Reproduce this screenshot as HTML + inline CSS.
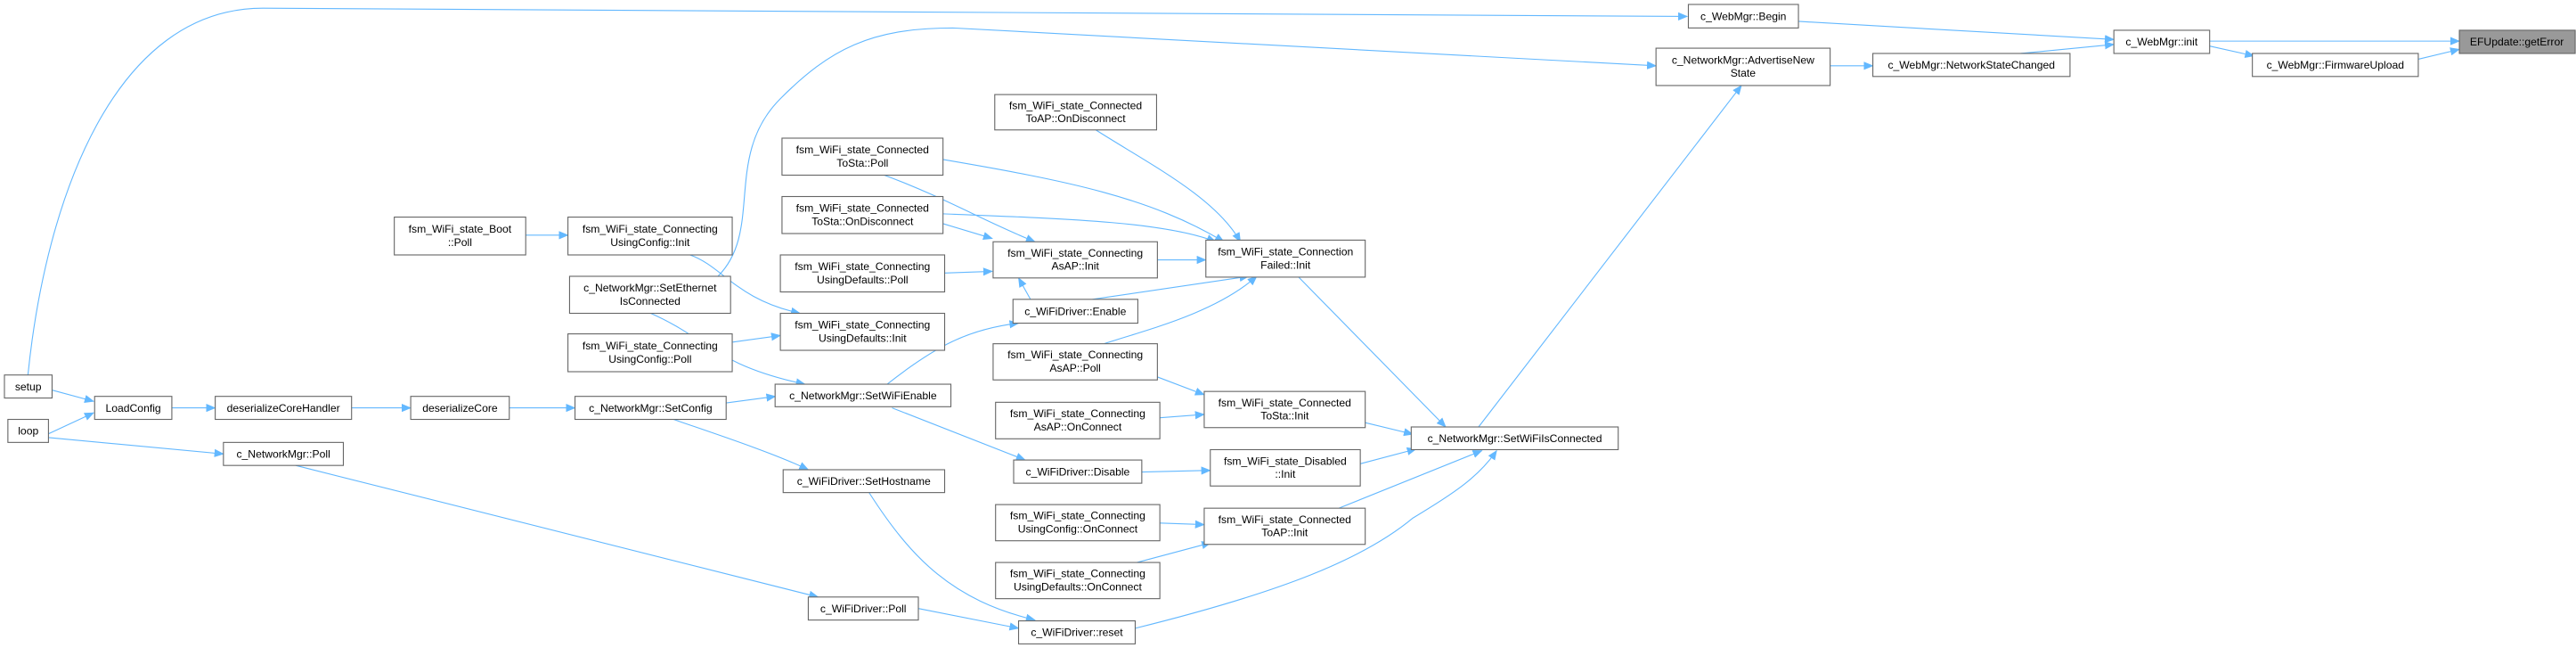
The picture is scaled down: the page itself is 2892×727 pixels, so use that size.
<!DOCTYPE html>
<html><head><meta charset="utf-8"><style>
html,body{margin:0;padding:0;background:#fff;}
svg{display:block;}
text{font-family:"Liberation Sans",Arial,sans-serif;font-size:6.6px;fill:#000;text-anchor:middle;}
.b{fill:#fff;stroke:#666;stroke-width:0.6;}
.e{fill:none;stroke:#63b8ff;stroke-width:0.6;}
</style></head><body>
<svg width="2892" height="727" viewBox="0 0 1568 394" preserveAspectRatio="none" xmlns="http://www.w3.org/2000/svg">
<defs><marker id="a" markerUnits="userSpaceOnUse" markerWidth="6" markerHeight="5" refX="5.5" refY="2.5" orient="auto"><path d="M0,0 L6,2.5 L0,5 z" fill="#63b8ff"/></marker></defs>
<g marker-end="url(#a)">
<path class="e" d="M17,228 C28,120 70,5 160,5 L1027,10"/>
<path class="e" d="M31,237 L57,244"/>
<path class="e" d="M29,264 L57,251"/>
<path class="e" d="M29,266 L136,276"/>
<path class="e" d="M104.6,248 L131,248"/>
<path class="e" d="M214,248 L250,248"/>
<path class="e" d="M310,248 L350,248"/>
<path class="e" d="M442,245 L472,241"/>
<path class="e" d="M410,255 C430,262 470,275 492,285.6"/>
<path class="e" d="M180,283 L498,363"/>
<path class="e" d="M320,143 L345.7,143"/>
<path class="e" d="M420,155 C440,162 448,182 487,190.5"/>
<path class="e" d="M437,168 C465,140 440,95 475,60 C505,30 530,17 580,17 L1008,40"/>
<path class="e" d="M395,190 C430,205 435,222 490,233.6"/>
<path class="e" d="M446,208 L475,204"/>
<path class="e" d="M537,106 C575,120 600,135 630,147"/>
<path class="e" d="M574,97 C650,110 700,120 745,147"/>
<path class="e" d="M574,136 L604,145"/>
<path class="e" d="M574,130 C650,133 710,135 740,147"/>
<path class="e" d="M575,166 L604,165"/>
<path class="e" d="M632,190.5 L620,169"/>
<path class="e" d="M667,79 C700,100 740,120 755,147"/>
<path class="e" d="M704,158 L734,158"/>
<path class="e" d="M665,182 L760,168"/>
<path class="e" d="M672,209 C700,200 740,190 765,168"/>
<path class="e" d="M790,168 L880,259.6"/>
<path class="e" d="M540,233.6 C570,210 590,200 620,196.5"/>
<path class="e" d="M543,248 L624,279.7"/>
<path class="e" d="M704,229 L733,240"/>
<path class="e" d="M706,254 L733,252"/>
<path class="e" d="M831,257 L860,264"/>
<path class="e" d="M695,287 L736.7,286"/>
<path class="e" d="M828,282 L862,273"/>
<path class="e" d="M706,318 L733,319"/>
<path class="e" d="M692,342 L737,330"/>
<path class="e" d="M815,309 L902,274"/>
<path class="e" d="M691,382 C780,360 830,340 860,315 C885,300 900,290 911,274"/>
<path class="e" d="M529,299.5 C555,340 580,365 630,377"/>
<path class="e" d="M559,370 L620,382"/>
<path class="e" d="M900,259.6 L1060,52"/>
<path class="e" d="M1094.6,13 L1286.7,24"/>
<path class="e" d="M1114,40 L1140,40"/>
<path class="e" d="M1230,32.5 L1286.7,27"/>
<path class="e" d="M1345,25 L1497,25"/>
<path class="e" d="M1345,28 L1372,34"/>
<path class="e" d="M1472,36 L1497,30"/>
</g>
<rect class="b" x="2.7" y="228" width="29" height="14"/><text x="17.2" y="237.3">setup</text>
<rect class="b" x="4.8" y="255" width="24.7" height="14"/><text x="17.2" y="264.3">loop</text>
<rect class="b" x="57.6" y="241" width="47" height="14"/><text x="81.1" y="250.3">LoadConfig</text>
<rect class="b" x="131" y="241" width="83" height="14"/><text x="172.5" y="250.3">deserializeCoreHandler</text>
<rect class="b" x="250" y="241" width="60" height="14"/><text x="280" y="250.3">deserializeCore</text>
<rect class="b" x="350" y="241" width="92" height="14"/><text x="396" y="250.3">c_NetworkMgr::SetConfig</text>
<rect class="b" x="136" y="269" width="73" height="14"/><text x="172.5" y="278.3">c_NetworkMgr::Poll</text>
<rect class="b" x="240" y="132" width="80" height="23"/><text x="280" y="141.5">fsm_WiFi_state_Boot</text><text x="280" y="149.5">::Poll</text>
<rect class="b" x="345.7" y="132" width="100" height="23"/><text x="395.7" y="141.5">fsm_WiFi_state_Connecting</text><text x="395.7" y="149.5">UsingConfig::Init</text>
<rect class="b" x="346.7" y="168" width="98" height="22.5"/><text x="395.7" y="177.3">c_NetworkMgr::SetEthernet</text><text x="395.7" y="185.3">IsConnected</text>
<rect class="b" x="345.7" y="203" width="100" height="23"/><text x="395.7" y="212.5">fsm_WiFi_state_Connecting</text><text x="395.7" y="220.5">UsingConfig::Poll</text>
<rect class="b" x="476" y="84" width="98" height="22.5"/><text x="525" y="93.3">fsm_WiFi_state_Connected</text><text x="525" y="101.3">ToSta::Poll</text>
<rect class="b" x="476" y="119.5" width="98" height="22.5"/><text x="525" y="128.8">fsm_WiFi_state_Connected</text><text x="525" y="136.8">ToSta::OnDisconnect</text>
<rect class="b" x="475" y="155" width="100" height="22.5"/><text x="525" y="164.3">fsm_WiFi_state_Connecting</text><text x="525" y="172.3">UsingDefaults::Poll</text>
<rect class="b" x="475" y="190.5" width="100" height="22.5"/><text x="525" y="199.8">fsm_WiFi_state_Connecting</text><text x="525" y="207.8">UsingDefaults::Init</text>
<rect class="b" x="605.5" y="57.5" width="98.5" height="21.5"/><text x="654.7" y="66.3">fsm_WiFi_state_Connected</text><text x="654.7" y="74.3">ToAP::OnDisconnect</text>
<rect class="b" x="604.5" y="147" width="100" height="22"/><text x="654.5" y="156">fsm_WiFi_state_Connecting</text><text x="654.5" y="164">AsAP::Init</text>
<rect class="b" x="616.6" y="182" width="76" height="14.5"/><text x="654.6" y="191.5">c_WiFiDriver::Enable</text>
<rect class="b" x="604.5" y="209" width="100" height="22"/><text x="654.5" y="218">fsm_WiFi_state_Connecting</text><text x="654.5" y="226">AsAP::Poll</text>
<rect class="b" x="734" y="146" width="97" height="22.5"/><text x="782.5" y="155.3">fsm_WiFi_state_Connection</text><text x="782.5" y="163.3">Failed::Init</text>
<rect class="b" x="471.8" y="233.6" width="107" height="13.7"/><text x="525.3" y="242.7">c_NetworkMgr::SetWiFiEnable</text>
<rect class="b" x="606" y="244.6" width="100" height="22.2"/><text x="656" y="253.7">fsm_WiFi_state_Connecting</text><text x="656" y="261.7">AsAP::OnConnect</text>
<rect class="b" x="733" y="238" width="98" height="22"/><text x="782" y="247">fsm_WiFi_state_Connected</text><text x="782" y="255">ToSta::Init</text>
<rect class="b" x="859" y="259.6" width="126" height="13.8"/><text x="922" y="268.8">c_NetworkMgr::SetWiFiIsConnected</text>
<rect class="b" x="617" y="279.7" width="78" height="14.1"/><text x="656" y="289">c_WiFiDriver::Disable</text>
<rect class="b" x="736.7" y="273.4" width="91.3" height="22.1"/><text x="782.3" y="282.5">fsm_WiFi_state_Disabled</text><text x="782.3" y="290.5">::Init</text>
<rect class="b" x="476.7" y="285.6" width="98.3" height="13.9"/><text x="525.8" y="294.8">c_WiFiDriver::SetHostname</text>
<rect class="b" x="606" y="306.8" width="100" height="22"/><text x="656" y="315.8">fsm_WiFi_state_Connecting</text><text x="656" y="323.8">UsingConfig::OnConnect</text>
<rect class="b" x="733" y="309" width="98" height="22"/><text x="782" y="318">fsm_WiFi_state_Connected</text><text x="782" y="326">ToAP::Init</text>
<rect class="b" x="606" y="342" width="100" height="22"/><text x="656" y="351">fsm_WiFi_state_Connecting</text><text x="656" y="359">UsingDefaults::OnConnect</text>
<rect class="b" x="492" y="363" width="67" height="14"/><text x="525.5" y="372.3">c_WiFiDriver::Poll</text>
<rect class="b" x="620" y="377.5" width="71" height="14"/><text x="655.5" y="386.8">c_WiFiDriver::reset</text>
<rect class="b" x="1027.7" y="2.7" width="67" height="14.3"/><text x="1061.2" y="12.1">c_WebMgr::Begin</text>
<rect class="b" x="1008" y="29.3" width="106" height="22.7"/><text x="1061" y="38.7">c_NetworkMgr::AdvertiseNew</text><text x="1061" y="46.7">State</text>
<rect class="b" x="1140" y="32.5" width="120" height="14"/><text x="1200" y="41.8">c_WebMgr::NetworkStateChanged</text>
<rect class="b" x="1286.7" y="18.4" width="58.3" height="14.1"/><text x="1315.8" y="27.7">c_WebMgr::init</text>
<rect class="b" x="1371" y="32.5" width="101" height="14"/><text x="1421.5" y="41.8">c_WebMgr::FirmwareUpload</text>
<rect x="1497" y="18.4" width="70.5" height="14.1" fill="#999" stroke="#666" stroke-width="0.6"/><text x="1532" y="27.7">EFUpdate::getError</text>
</svg>
</body></html>
